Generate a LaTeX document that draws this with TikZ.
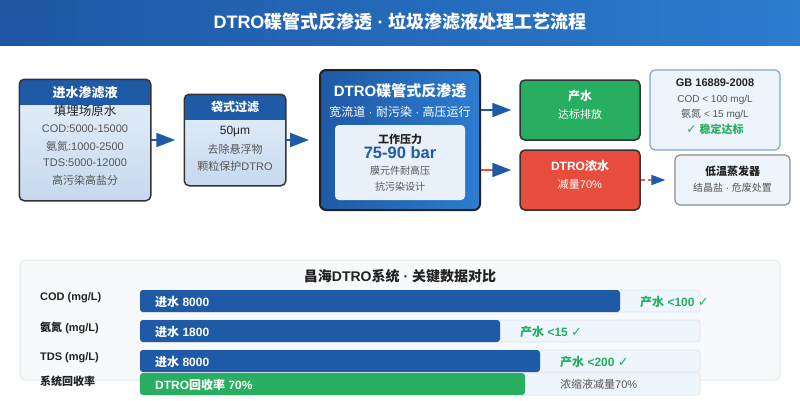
\documentclass[tikz,border=0pt]{standalone}
\usepackage{fontspec}
\setmainfont{Liberation Sans}
\newfontfamily\cjkf{Noto Sans CJK SC}
\newfontfamily\latf{Liberation Sans}
\newfontfamily\symf{DejaVu Sans}
\usetikzlibrary{arrows.meta}
\XeTeXinterchartokenstate=1
\newXeTeXintercharclass\CJKcls
\makeatletter
\count@="4E00
\loop\XeTeXcharclass\count@=\CJKcls\ifnum\count@<"9FFF\advance\count@\@ne\repeat
\count@="3000
\loop\XeTeXcharclass\count@=\CJKcls\ifnum\count@<"303F\advance\count@\@ne\repeat
\makeatother
\XeTeXinterchartoks 0 \CJKcls={\cjkf}
\XeTeXinterchartoks 4095 \CJKcls={\cjkf}
\XeTeXinterchartoks \CJKcls 0={\latf}
\XeTeXinterchartoks \CJKcls 4095={\latf}
\definecolor{hdrblue}{HTML}{1F5AA6}
\definecolor{titleL}{HTML}{1E57A3}
\definecolor{titleR}{HTML}{2C7CD0}
\definecolor{bodyT}{HTML}{E8F0FA}
\definecolor{bodyB}{HTML}{C6D9EF}
\definecolor{darkb}{HTML}{333333}
\definecolor{gr}{HTML}{27AE60}
\definecolor{rd}{HTML}{E74C3C}
\definecolor{rdl}{HTML}{E8695B}
\definecolor{tgray}{HTML}{555555}
\definecolor{tdark}{HTML}{222222}
\definecolor{panelbg}{HTML}{F7F9FC}
\definecolor{panelbd}{HTML}{E3E8F0}
\definecolor{barbg}{HTML}{EEF5FD}
\definecolor{barbd}{HTML}{DCE6F2}
\definecolor{gbfill}{HTML}{EEF4FC}
\definecolor{gbbd}{HTML}{7FA7D8}
\definecolor{evbd}{HTML}{8A9099}
\definecolor{innerf}{HTML}{E8F0FA}
\newcommand{\chk}{{\symf\fontsize{13}{13}\selectfont ✓}}
\tikzset{
  lab/.style={inner sep=0pt, font=\fontsize{#1}{#1}\selectfont},
  blab/.style={inner sep=0pt, font=\fontsize{#1}{#1}\selectfont\bfseries},
  procbox/.style={draw=darkb, line width=1.5pt, rounded corners=5pt, inner sep=0pt, top color=bodyT, bottom color=bodyB},
  flow/.style={line width=2pt, hdrblue, -{Triangle[length=19pt,width=14pt]}},
  barback/.style={fill=barbg, draw=barbd, line width=0.8pt, rounded corners=3pt},
  barfill/.style={rounded corners=3pt},
}
\begin{document}
\begin{tikzpicture}[x=1pt,y=-1pt]
\useasboundingbox (0,0) rectangle (800,400);
\fill[white] (0,0) rectangle (800,400);
% title
\shade[left color=titleL, right color=titleR] (0,0) rectangle (800,45);
\node[blab=18, text=white] (title) at (400,22) {DTRO碟管式反渗透 · 垃圾渗滤液处理工艺流程};

% box 1
\node[procbox, minimum width=130pt, minimum height=120pt, draw=none] (src) at (85,140) {};
\begin{scope}
\clip[rounded corners=5pt] (src.south west) rectangle (src.north east);
\fill[hdrblue] (20,80) rectangle (150,105);
\end{scope}
\draw[darkb, line width=1.5pt, rounded corners=5pt] (src.south west) rectangle (src.north east);
\node[blab=13, text=white] (srch) at (85,93) {进水渗滤液};
\node[lab=12.5, text=tdark] (src1) at (85,111) {填埋场原水};
\node[lab=11, text=tgray] (src2) at (85,129) {COD:5000-15000};
\node[lab=11, text=tgray] (src3) at (85,146) {氨氮:1000-2500};
\node[lab=11, text=tgray] (src4) at (85,163) {TDS:5000-12000};
\node[lab=11, text=tgray] (src5) at (85,180) {高污染高盐分};

% box 2
\node[procbox, minimum width=100pt, minimum height=90pt, draw=none] (bag) at (235,140) {};
\begin{scope}
\clip[rounded corners=5pt] (bag.south west) rectangle (bag.north east);
\fill[hdrblue] (185,95) rectangle (285,120);
\end{scope}
\draw[darkb, line width=1.5pt, rounded corners=5pt] (bag.south west) rectangle (bag.north east);
\node[blab=12, text=white] (bagh) at (235,107) {袋式过滤};
\node[lab=12, text=tdark] (bag1) at (235,131) {50μm};
\node[lab=11, text=tgray] (bag2) at (235,149) {去除悬浮物};
\node[lab=11, text=tgray] (bag3) at (235,166.5) {颗粒保护DTRO};

% DTRO box
\node[draw=tdark, line width=2pt, rounded corners=6pt, minimum width=160pt, minimum height=140pt, left color=hdrblue, right color=titleR, inner sep=0pt] (dtro) at (400,140) {};
\node[blab=15, text=white] (dtroh) at (400,91) {DTRO碟管式反渗透};
\node[lab=12, text=white] (dtros) at (400,112) {宽流道 · 耐污染 · 高压运行};
\node[fill=innerf, rounded corners=4pt, minimum width=130pt, minimum height=75pt, inner sep=0pt] (inner) at (400,162.5) {};
\node[blab=11, text=tdark] (in1) at (400,139) {工作压力};
\node[blab=16.5, text=hdrblue] (in2) at (400,153) {75-90 bar};
\node[lab=10, text=tgray] (in3) at (400,171) {膜元件耐高压};
\node[lab=10, text=tgray] (in4) at (400,187) {抗污染设计};

% product / concentrate
\node[draw=darkb, line width=1.5pt, rounded corners=5pt, fill=gr, minimum width=120pt, minimum height=60pt, inner sep=0pt] (prod) at (580,110) {};
\node[blab=12, text=white] (prod1) at (580,96) {产水};
\node[lab=11, text=white] (prod2) at (580,114) {达标排放};
\node[draw=darkb, line width=1.5pt, rounded corners=5pt, fill=rd, minimum width=120pt, minimum height=60pt, inner sep=0pt] (conc) at (580,180) {};
\node[blab=12, text=white] (conc1) at (580,166) {DTRO浓水};
\node[lab=11, text=white] (conc2) at (580,184) {减量70\%};

% GB box
\node[draw=gbbd, line width=1.2pt, rounded corners=5pt, fill=gbfill, minimum width=130pt, minimum height=80pt, inner sep=0pt] (gb) at (715,110) {};
\node[blab=11, text=tdark] (gb1) at (715,83) {GB 16889-2008};
\node[lab=10, text=tgray] (gb2) at (715,100) {COD < 100 mg/L};
\node[lab=10, text=tgray] (gb3) at (715,114) {氨氮 < 15 mg/L};
\node[blab=11, text=gr] (gb4) at (715,129) {{\symf\fontsize{12}{12}\selectfont ✓} 稳定达标};

% evaporator
\node[draw=evbd, line width=1.2pt, rounded corners=5pt, fill=gbfill, minimum width=115pt, minimum height=50pt, inner sep=0pt] (evap) at (732.5,180) {};
\node[blab=11, text=tdark] (ev1) at (732.5,171) {低温蒸发器};
\node[lab=10, text=tgray] (ev2) at (732.5,188) {结晶盐 · 危废处置};

% connectors
\draw[flow, shorten >=9pt] (src.east) -- (bag.west);
\draw[flow, shorten >=10pt] (bag.east) -- (dtro.west);
\draw[flow, shorten >=8pt] (dtro.east |- prod.west) -- (prod.west);
\coordinate (cin) at ([yshift=10pt]conc.west);
\draw[line width=2pt, rd, -{Triangle[length=19pt,width=14pt,color=hdrblue,fill=hdrblue]}, shorten >=8pt] (dtro.east |- cin) -- (cin);
\draw[line width=1.5pt, rdl, dash pattern=on 4pt off 3pt, -{Triangle[length=14pt,width=10pt,color=hdrblue,fill=hdrblue]}, shorten >=9pt] (conc.east) -- (evap.west);

% bottom panel
\node[fill=panelbg, draw=panelbd, line width=1pt, rounded corners=6pt, minimum width=760pt, minimum height=120pt, inner sep=0pt] (panel) at (400,320) {};
\node[blab=14, text=tdark] (ptitle) at (400,276) {昌海DTRO系统 · 关键数据对比};

\node[blab=11, text=tdark, anchor=west] (l1) at (40,298) {COD (mg/L)};
\node[blab=11, text=tdark, anchor=west] (l2) at (40,328) {氨氮 (mg/L)};
\node[blab=11, text=tdark, anchor=west] (l3) at (40,358) {TDS (mg/L)};
\node[blab=11, text=tdark, anchor=west] (l4) at (40,381) {系统回收率};

\path[barback] (140,290) rectangle (700,312);
\fill[hdrblue, barfill] (140,290) rectangle (620,312);
\path[barback] (140,320) rectangle (700,342);
\fill[hdrblue, barfill] (140,320) rectangle (500,342);
\path[barback] (140,350) rectangle (700,372);
\fill[hdrblue, barfill] (140,350) rectangle (540,372);
\path[barback] (140,373) rectangle (700,395);
\fill[gr, barfill] (140,373) rectangle (525,395);

\node[blab=12, text=white, anchor=west] (b1) at (155,301.5) {进水 8000};
\node[blab=12, text=white, anchor=west] (b2) at (155,331.5) {进水 1800};
\node[blab=12, text=white, anchor=west] (b3) at (155,361.5) {进水 8000};
\node[blab=12, text=white, anchor=west] (b4) at (155,384.5) {DTRO回收率 70\%};

\node[blab=12, text=gr, anchor=west] (o1) at (640,301.5) {产水 <100 \chk};
\node[blab=12, text=gr, anchor=west] (o2) at (520,331.5) {产水 <15 \chk};
\node[blab=12, text=gr, anchor=west] (o3) at (560,361.5) {产水 <200 \chk};
\node[lab=11, text=tgray, anchor=west] (o4) at (560,384.5) {浓缩液减量70\%};
\end{tikzpicture}
\end{document}
